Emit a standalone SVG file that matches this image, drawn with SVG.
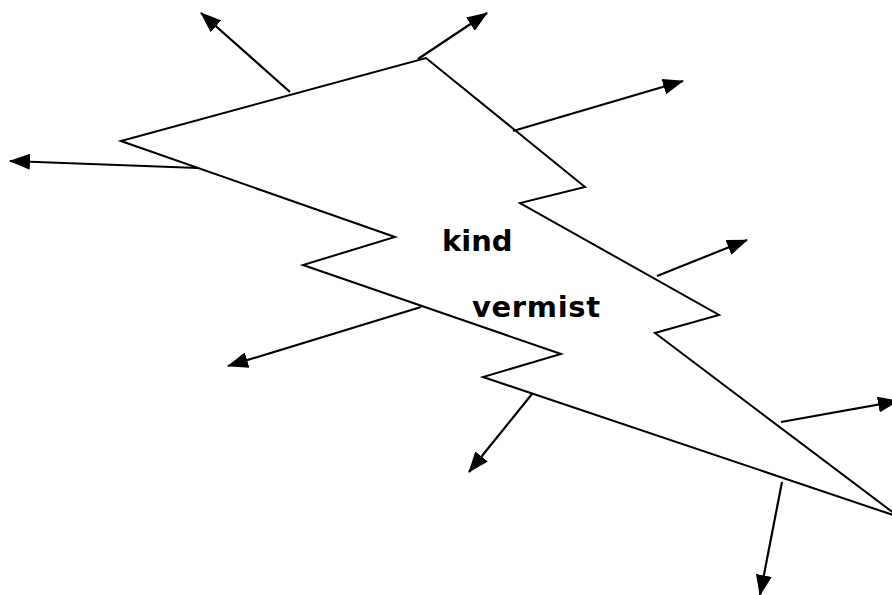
<svg xmlns="http://www.w3.org/2000/svg" width="892" height="595" viewBox="0 0 892 595">
<style>
.bolt{fill:#fff;stroke:#000;stroke-width:2;stroke-linejoin:miter}
.arr{stroke:#000;stroke-width:2.2;fill:none;marker-end:url(#ah)}
.lbl{font-family:"DejaVu Sans",Verdana,sans-serif;font-weight:bold;font-size:29px;fill:#000}
</style>
<defs>
<marker id="ah" markerUnits="userSpaceOnUse" markerWidth="21" markerHeight="16" refX="20" refY="8" orient="auto">
<path d="M0,0 L21,8 L0,16 z" fill="#000"/>
</marker>
</defs>
<rect width="892" height="595" fill="#fff"/>
<g id="bolt">
<polygon class="bolt" points="121,141 426,58 585,187 520,203 719,315 655,333 899,517 483,377 561,354 303,265 395,237"/>
</g>
<g id="connectors">
<line class="arr" x1="290" y1="92" x2="201" y2="13"/>
<line class="arr" x1="418" y1="59" x2="487" y2="13"/>
<line class="arr" x1="513" y1="131" x2="683" y2="81"/>
<line class="arr" x1="198" y1="168" x2="10" y2="161"/>
<line class="arr" x1="657" y1="276" x2="747" y2="240"/>
<line class="arr" x1="421" y1="307" x2="228" y2="366"/>
<line class="arr" x1="532" y1="394" x2="469" y2="472"/>
<line class="arr" x1="781" y1="422" x2="898" y2="401"/>
<line class="arr" x1="782" y1="482" x2="760" y2="595"/>
</g>
<g id="label-kind"><text class="lbl" x="442" y="251">kind</text></g>
<g id="label-vermist"><text class="lbl" x="472" y="317" textLength="128" lengthAdjust="spacing">vermist</text></g>
</svg>
